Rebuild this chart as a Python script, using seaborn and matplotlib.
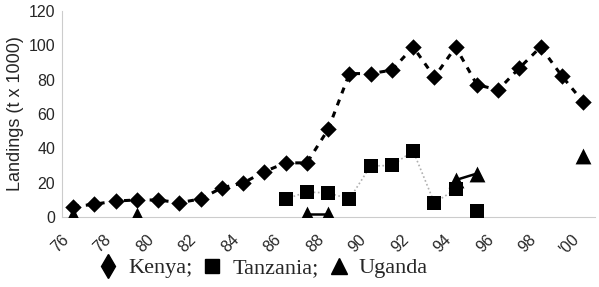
import numpy as np
import pandas as pd
import matplotlib
matplotlib.use("Agg")
import matplotlib.pyplot as plt
import matplotlib.transforms as mtransforms
import seaborn as sns
from matplotlib.lines import Line2D

# ---- data ----
kenya_years = list(range(1976, 2001))
kenya_vals = [6, 7.4, 9.3, 9.9, 9.9, 8.3, 10.5, 17, 19.8, 26.4, 31.5,
              31.5, 51, 83.5, 83.5, 85.5, 99, 81.5, 99, 77, 74, 86.8, 99, 82, 67]

tanz_years = [1986, 1987, 1988, 1989, 1990, 1991, 1992, 1993, 1994, 1995]
tanz_vals = [10.5, 14.5, 14, 10.5, 29.7, 30, 38.4, 8.2, 16.2, 3.7]
tanz_seg = [1, 1, 1, 1, 1, 1, 1, 1, 1, 2]

ug_years = [1976, 1979, 1987, 1988, 1994, 1995, 2000]
ug_vals = [1, 1, 2, 2, 21.5, 25.3, 35.5]
ug_seg = [1, 2, 3, 3, 4, 4, 5]

xtick_years = list(range(1976, 2001, 2))
xtick_labels = ["76", "78", "80", "82", "84", "86", "88", "90", "92", "94", "96", "98", "'00"]
yticks = [0, 20, 40, 60, 80, 100, 120]

sns.set_style("white")
plt.rcParams['font.family'] = ['Liberation Sans', 'DejaVu Sans']

kenya = pd.DataFrame({"year": kenya_years, "val": kenya_vals})
tanz = pd.DataFrame({"year": tanz_years, "val": tanz_vals, "seg": tanz_seg})
ug = pd.DataFrame({"year": ug_years, "val": ug_vals, "seg": ug_seg})

fig = plt.figure(figsize=(5.99, 2.87), dpi=100)
ax = fig.add_axes([0.1035, 0.244, 0.890, 0.718])

# Kenya
sns.lineplot(data=kenya, x="year", y="val", ax=ax, color="black",
             linestyle=(0, (2.0, 2.2)), linewidth=2.2, zorder=2)
sns.scatterplot(data=kenya, x="year", y="val", ax=ax, color="black",
                marker="D", s=70, edgecolor="black", linewidth=0, zorder=3)

# Tanzania
sns.lineplot(data=tanz[tanz.seg == 1], x="year", y="val", ax=ax, color="#b0b0b0",
             linestyle=(0, (1, 1.5)), linewidth=1.2, zorder=2)
sns.scatterplot(data=tanz, x="year", y="val", ax=ax, color="black",
                marker="s", s=105, edgecolor="black", linewidth=0, zorder=3)

# Uganda
sns.lineplot(data=ug, x="year", y="val", units="seg", estimator=None, ax=ax,
             color="black", linewidth=1.8, zorder=2)
sns.scatterplot(data=ug, x="year", y="val", ax=ax, color="black",
                marker="^", s=130, edgecolor="black", linewidth=0, zorder=4)

ax.set_xlim(1975.48, 2000.56)
ax.set_ylim(0, 120)
ax.set_yticks(yticks)
ax.set_yticklabels([str(v) for v in yticks], fontsize=11.5)
ax.set_xticks(xtick_years)
ax.set_xticklabels(xtick_labels, rotation=45, fontsize=11.5, ha="right",
                   va="top", rotation_mode="anchor")
ax.set_xticks(np.arange(1975.5, 2001, 1), minor=True)
ax.tick_params(axis="x", which="major", length=0, pad=11)
ax.tick_params(axis="x", which="minor", length=3, color="#bbbbbb", direction="in")
ax.tick_params(axis="y", length=0, pad=5)
offset = mtransforms.ScaledTranslation(-12 / 100, 0, fig.dpi_scale_trans)
for lab in ax.get_xticklabels():
    lab.set_transform(lab.get_transform() + offset)
ax.set_xlabel("")
ax.set_ylabel("Landings (t x 1000)", fontsize=13, labelpad=3)

for s in ["top", "right"]:
    ax.spines[s].set_visible(False)
for s in ["left", "bottom"]:
    ax.spines[s].set_color("#cccccc")
    ax.spines[s].set_linewidth(0.8)

handles = [
    Line2D([], [], color="black", marker="d", linestyle="none", markersize=12),
    Line2D([], [], color="black", marker="s", linestyle="none", markersize=9.5),
    Line2D([], [], color="black", marker="^", linestyle="none", markersize=12),
]
fig.legend(handles, ["Kenya;", "Tanzania;", "Uganda"], loc="center",
           bbox_to_anchor=(0.44, 0.066), ncol=3, frameon=False,
           prop={"family": "Liberation Serif", "size": 16},
           handlelength=0.8, handletextpad=0.5, columnspacing=0.5)

fig.savefig("out.png", dpi=100)
